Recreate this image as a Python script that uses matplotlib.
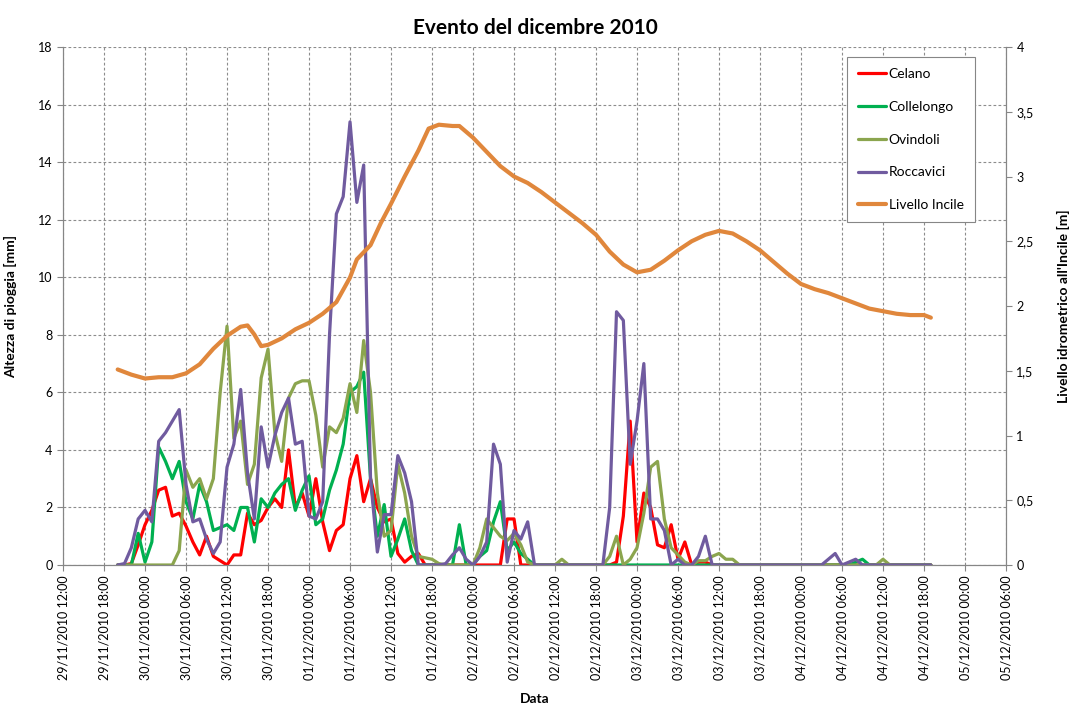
import numpy as np
import pandas as pd
import matplotlib
matplotlib.use('Agg')
import matplotlib.pyplot as plt
import matplotlib.dates as mdates
from matplotlib.ticker import FuncFormatter, MultipleLocator

plt.rcParams['font.family'] = ['Lato', 'DejaVu Sans']

# hourly rain [mm], from 29/11/2010 20:00 to 04/12/2010 19:00
celano = [0, 0, 0.05, 0.7, 1.4, 1.9, 2.6, 2.7, 1.7, 1.8, 1.35, 0.8,
          0.35, 1.0, 0.3, 0.15, 0, 0.35, 0.35, 1.8, 1.4, 1.55, 2.0, 2.3,
          2.0, 4.0, 2.0, 2.5, 1.7, 3.0, 1.5, 0.5, 1.2, 1.4, 3.0, 3.8,
          2.2, 3.0, 2.0, 1.5, 1.6, 0.4, 0.1, 0.3, 0.4, 0, 0, 0,
          0, 0, 0, 0, 0, 0, 0, 0, 0, 1.6, 1.6, 0,
          0, 0, 0, 0, 0, 0, 0, 0, 0, 0, 0, 0,
          0, 0.1, 1.7, 5.0, 0.8, 2.5, 2.0, 0.7, 0.6, 1.4, 0.2, 0.8,
          0, 0.1, 0.1, 0, 0, 0, 0, 0, 0, 0, 0, 0,
          0, 0, 0, 0, 0, 0, 0, 0, 0, 0, 0, 0,
          0, 0, 0, 0, 0, 0, 0, 0, 0, 0, 0, 0]
collelongo = [0, 0, 0, 1.1, 0.1, 0.8, 4.1, 3.6, 3.0, 3.6, 2.2, 1.6,
              2.8, 2.2, 1.2, 1.3, 1.4, 1.2, 2.0, 2.0, 0.8, 2.3, 2.0, 2.5,
              2.8, 3.0, 1.9, 2.6, 3.1, 1.4, 1.6, 2.6, 3.3, 4.2, 6.0, 6.2,
              6.7, 3.0, 1.0, 2.1, 0.3, 0.9, 1.6, 0.5, 0, 0, 0, 0,
              0, 0, 1.4, 0, 0, 0.3, 0.5, 1.5, 2.2, 0.5, 0.8, 0.4,
              0.2, 0, 0, 0, 0, 0, 0, 0, 0, 0, 0, 0,
              0, 0, 0, 0, 0, 0, 0, 0, 0, 0, 0, 0,
              0, 0, 0, 0, 0, 0, 0, 0, 0, 0, 0, 0,
              0, 0, 0, 0, 0, 0, 0, 0, 0, 0, 0, 0,
              0.1, 0.2, 0, 0, 0, 0, 0, 0, 0, 0, 0, 0]
ovindoli = [0, 0, 0, 0, 0, 0, 0, 0, 0, 0.5, 3.3, 2.7,
            3.0, 2.3, 3.0, 6.0, 8.3, 4.4, 5.0, 2.8, 3.5, 6.5, 7.5, 4.6,
            3.6, 5.8, 6.3, 6.4, 6.4, 5.2, 3.4, 4.8, 4.6, 5.1, 6.3, 5.3,
            7.8, 6.0, 2.5, 1.0, 1.2, 3.5, 2.5, 1.0, 0.3, 0.25, 0.2, 0.05,
            0, 0, 0, 0, 0, 0.6, 1.6, 1.3, 1.0, 0.85, 1.1, 0.7,
            0.1, 0, 0, 0, 0, 0.2, 0, 0, 0, 0, 0, 0,
            0.3, 1.0, 0, 0.2, 0.6, 1.8, 3.4, 3.6, 1.6, 0.6, 0.35, 0.1,
            0, 0.15, 0.15, 0.3, 0.4, 0.2, 0.2, 0, 0, 0, 0, 0,
            0, 0, 0, 0, 0, 0, 0, 0, 0, 0, 0, 0,
            0, 0, 0, 0, 0.2, 0, 0, 0, 0, 0, 0, 0]
roccavici = [0, 0.05, 0.6, 1.6, 1.9, 1.5, 4.3, 4.6, 5.0, 5.4, 2.8, 1.5,
             1.6, 0.9, 0.4, 0.8, 3.4, 4.2, 6.1, 3.2, 1.6, 4.8, 3.4, 4.5,
             5.3, 5.8, 4.2, 4.3, 1.7, 1.6, 2.2, 8.0, 12.2, 12.8, 15.4, 12.6,
             13.9, 3.0, 0.45, 1.75, 1.75, 3.8, 3.2, 2.2, 0, 0, 0, 0,
             0.05, 0.35, 0.6, 0.2, 0, 0.3, 0.8, 4.2, 3.5, 0.1, 1.2, 0.9,
             1.5, 0, 0, 0, 0, 0, 0, 0, 0, 0, 0, 0,
             2.0, 8.8, 8.5, 3.5, 5.0, 7.0, 1.6, 1.6, 1.2, 0, 0.2, 0,
             0, 0.3, 1.0, 0, 0, 0, 0, 0, 0, 0, 0, 0,
             0, 0, 0, 0, 0, 0, 0, 0, 0.2, 0.4, 0, 0.1,
             0.2, 0, 0, 0, 0, 0, 0, 0, 0, 0, 0, 0]

# hydrometric level [m] (hours after 29/11/2010 12:00)
level_hours = [8, 10, 12, 14, 16, 18, 20, 22, 24, 26, 27, 28, 29, 30, 32, 34, 36,
               38, 40, 42, 43, 45, 46.5, 48, 50, 52, 53.5, 55, 57, 58, 60, 62, 64,
               66, 68, 70, 72, 74, 76, 78, 80, 82, 84, 86, 88, 90, 92, 94, 96, 98,
               100, 102, 104, 106, 108, 110, 112, 114, 116, 118, 120, 122, 124, 126, 127]
livello = [1.51, 1.47, 1.44, 1.45, 1.45, 1.48, 1.55, 1.67, 1.77, 1.84, 1.85, 1.78,
           1.69, 1.70, 1.75, 1.82, 1.87, 1.94, 2.03, 2.22, 2.36, 2.47, 2.64, 2.79,
           3.0, 3.2, 3.37, 3.40, 3.39, 3.39, 3.30, 3.19, 3.08, 3.0, 2.95, 2.88,
           2.80, 2.72, 2.64, 2.55, 2.42, 2.32, 2.26, 2.28, 2.35, 2.43, 2.50, 2.55,
           2.58, 2.56, 2.50, 2.43, 2.34, 2.25, 2.17, 2.13, 2.10, 2.06, 2.02, 1.98,
           1.96, 1.94, 1.93, 1.93, 1.91]

t0 = pd.Timestamp('2010-11-29 12:00')
times = pd.date_range('2010-11-29 20:00', periods=len(celano), freq='h')
level_times = t0 + pd.to_timedelta(level_hours, unit='h')

fig = plt.figure(figsize=(10.7, 7.09), dpi=100)
ax = fig.add_axes([0.0589, 0.2031, 0.8813, 0.7306])
ax2 = ax.twinx()

lw = 2.3
style = dict(lw=lw, solid_joinstyle='round', solid_capstyle='round')
l1, = ax.plot(times, celano, color='#FF0000', label='Celano', **style)
l2, = ax.plot(times, collelongo, color='#00B050', label='Collelongo', **style)
l3, = ax.plot(times, ovindoli, color='#8BA54E', label='Ovindoli', **style)
l4, = ax.plot(times, roccavici, color='#705B9F', label='Roccavici', **style)
l5, = ax2.plot(level_times, livello, color='#E0873C', lw=3.0,
               solid_joinstyle='round', solid_capstyle='round', label='Livello Incile')

ax.set_xlim(t0, pd.Timestamp('2010-12-05 06:00'))
ax.set_ylim(0, 18)
ax2.set_ylim(0, 4)
ax.yaxis.set_major_locator(MultipleLocator(2))
ax2.yaxis.set_major_locator(MultipleLocator(0.5))
ax2.yaxis.set_major_formatter(FuncFormatter(lambda v, p: ('%g' % v).replace('.', ',')))

ax.xaxis.set_major_locator(mdates.HourLocator(byhour=[0, 6, 12, 18]))
ax.xaxis.set_major_formatter(mdates.DateFormatter('%d/%m/%Y %H:%M'))
plt.setp(ax.get_xticklabels(), rotation=90, fontsize=9)

ax.grid(True, color='#8c8c8c', linestyle=(0, (2.5, 2)), linewidth=0.8)
ax.set_axisbelow(True)

for a in (ax, ax2):
    a.spines['top'].set_visible(False)
    for s in ('left', 'right', 'bottom'):
        a.spines[s].set_color('#868686')
    a.tick_params(colors='#868686', labelcolor='black', labelsize=9, length=4)

ax.set_xlabel('Data', fontsize=10, fontweight='bold', va='center')
ax.xaxis.set_label_coords(0.5, -0.258)
ax.set_ylabel('Altezza di pioggia [mm]', fontsize=10, fontweight='bold')
ax.yaxis.set_label_coords(-0.049, 0.5)
ax2.set_ylabel("Livello idrometrico all'Incile [m]", fontsize=10, fontweight='bold')
ax2.yaxis.set_label_coords(1.054, 0.5)

fig.suptitle('Evento del dicembre 2010', x=0.5, y=0.975, fontsize=15, fontweight='bold')

leg = ax2.legend(handles=[l1, l2, l3, l4, l5], loc='upper right',
                 bbox_to_anchor=(0.967, 0.981), borderaxespad=0, fancybox=False,
                 edgecolor='#868686', framealpha=1, fontsize=10, labelspacing=1.5,
                 handlelength=2.0, handletextpad=0.2, borderpad=0.8)
leg.get_frame().set_linewidth(0.8)

fig.savefig('out.png', dpi=100)
